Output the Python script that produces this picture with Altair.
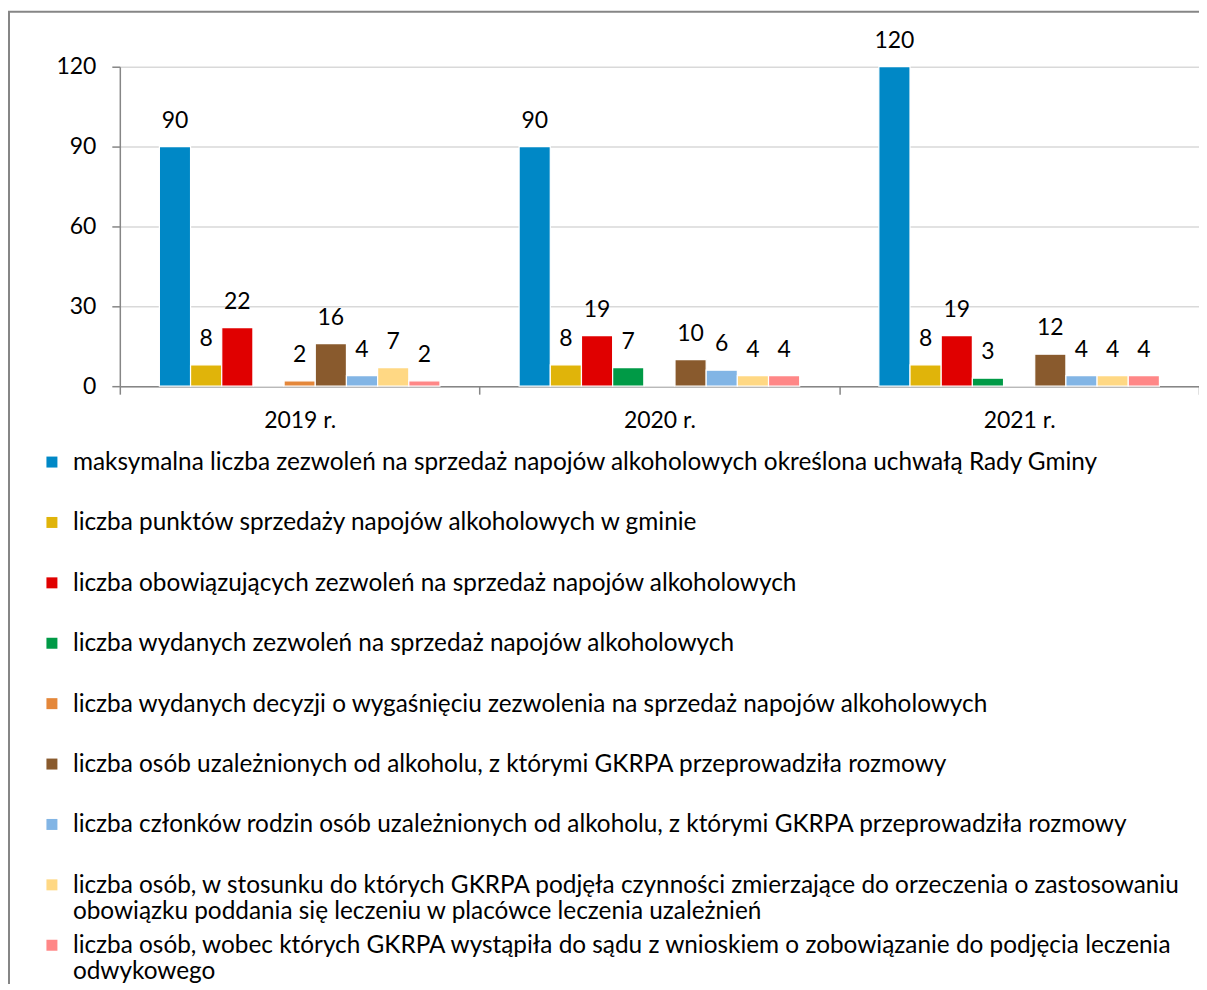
import altair as alt
import pandas as pd

# ---- data ----
years = ["2019 r.", "2020 r.", "2021 r."]
series = [
    "maksymalna liczba zezwoleń na sprzedaż napojów alkoholowych określona uchwałą Rady Gminy",
    "liczba punktów sprzedaży napojów alkoholowych w gminie",
    "liczba obowiązujących zezwoleń na sprzedaż napojów alkoholowych",
    "liczba wydanych zezwoleń na sprzedaż napojów alkoholowych",
    "liczba wydanych decyzji o wygaśnięciu zezwolenia na sprzedaż napojów alkoholowych",
    "liczba osób uzależnionych od alkoholu, z którymi GKRPA przeprowadziła rozmowy",
    "liczba członków rodzin osób uzależnionych od alkoholu, z którymi GKRPA przeprowadziła rozmowy",
    "liczba osób, w stosunku do których GKRPA podjęła czynności zmierzające do orzeczenia o zastosowaniu\nobowiązku poddania się leczeniu w placówce leczenia uzależnień",
    "liczba osób, wobec których GKRPA wystąpiła do sądu z wnioskiem o zobowiązanie do podjęcia leczenia\nodwykowego",
]
values_2019 = [90, 8, 22, 0, 2, 16, 4, 7, 2]
values_2020 = [90, 8, 19, 7, 0, 10, 6, 4, 4]
values_2021 = [120, 8, 19, 3, 0, 12, 4, 4, 4]
y_ticks = [0, 30, 60, 90, 120]
colors = ["#0088c6", "#e0b40a", "#e00000", "#009a46", "#e4873a",
          "#895a2d", "#82b5e5", "#ffd884", "#ff8787"]

rows = []
for yr, vals in zip(years, [values_2019, values_2020, values_2021]):
    for s, v in zip(series, vals):
        rows.append({"year": yr, "series": s, "value": v})
df = pd.DataFrame(rows)
legend_df = pd.DataFrame({"series": series})
years_df = pd.DataFrame({"year": years})
frame_df = pd.DataFrame({"k": [0]})

FONT = "Lato"
FS = 23
LFS = 24.4
GRAY = "#868686"
W, H = 1081, 320

color_scale = alt.Scale(domain=series, range=colors)

# band scale used by the bars (groups with gaps between them)
x_bars = alt.X("year:N", sort=years, title=None, axis=None,
               scale=alt.Scale(paddingInner=0.22, paddingOuter=0.11))
xo_enc = alt.XOffset("series:N", sort=series,
                     scale=alt.Scale(paddingInner=0, paddingOuter=0))

# category axis with ticks on the boundaries between the year groups
x_axis_layer = alt.Chart(years_df).mark_point(opacity=0).encode(
    x=alt.X("year:N", sort=years, title=None,
            scale=alt.Scale(paddingInner=0, paddingOuter=0),
            axis=alt.Axis(orient="bottom", labelAngle=0, tickBand="extent",
                          domainColor=GRAY, domainWidth=1.5,
                          tickColor=GRAY, tickWidth=1.5, tickSize=8, labelPadding=15,
                          labelFontSize=FS, labelFont=FONT, labelColor="#000",
                          grid=False)),
)

bars = alt.Chart(df).mark_bar(stroke="white", strokeWidth=1.2).encode(
    x=x_bars,
    xOffset=xo_enc,
    y=alt.Y("value:Q", title=None, scale=alt.Scale(domain=[0, 120], nice=False),
            axis=alt.Axis(values=y_ticks, domainColor=GRAY, domainWidth=1.5,
                          tickColor=GRAY, tickWidth=1.5, tickSize=8, labelPadding=16,
                          labelFontSize=FS, labelFont=FONT, labelColor="#000",
                          gridColor="#d9d9d9", gridWidth=1.5)),
    color=alt.Color("series:N", scale=color_scale, legend=None),
)

labels = alt.Chart(df).transform_filter("datum.value > 0").mark_text(
    baseline="alphabetic", dy=-19, fontSize=FS, font=FONT, color="#000"
).encode(
    x=x_bars,
    xOffset=xo_enc,
    y=alt.Y("value:Q", scale=alt.Scale(domain=[0, 120], nice=False), axis=None),
    text=alt.Text("value:Q"),
)

leg_y = alt.Y("series:N", sort=series, axis=None,
              scale=alt.Scale(type="point", range=[396, 880], padding=0))

leg_sq = alt.Chart(legend_df).mark_square(size=121, opacity=1).encode(
    x=alt.value(-68),
    y=leg_y,
    color=alt.Color("series:N", scale=color_scale, legend=None),
)

leg_txt = alt.Chart(legend_df).mark_text(
    align="left", baseline="top", dy=-11, lineBreak="\n", lineHeight=26,
    fontSize=LFS, font=FONT, color="#000"
).encode(
    x=alt.value(-47),
    y=leg_y,
    text="series:N",
)

frame = alt.Chart(frame_df).mark_rect(fillOpacity=0, stroke=GRAY, strokeWidth=2).encode(
    x=alt.value(-111), x2=alt.value(1300), y=alt.value(-55), y2=alt.value(1100)
)

chart = alt.layer(frame, x_axis_layer, bars, labels, leg_sq, leg_txt).resolve_scale(
    x="independent", y="independent"
).properties(
    width=W, height=H,
    autosize=alt.AutoSizeParams(type="none"),
    padding={"left": 112, "top": 58, "right": 0, "bottom": 598},
).configure_view(strokeOpacity=0)

chart.save("out.html", embed_options={"renderer": "svg", "actions": False})
